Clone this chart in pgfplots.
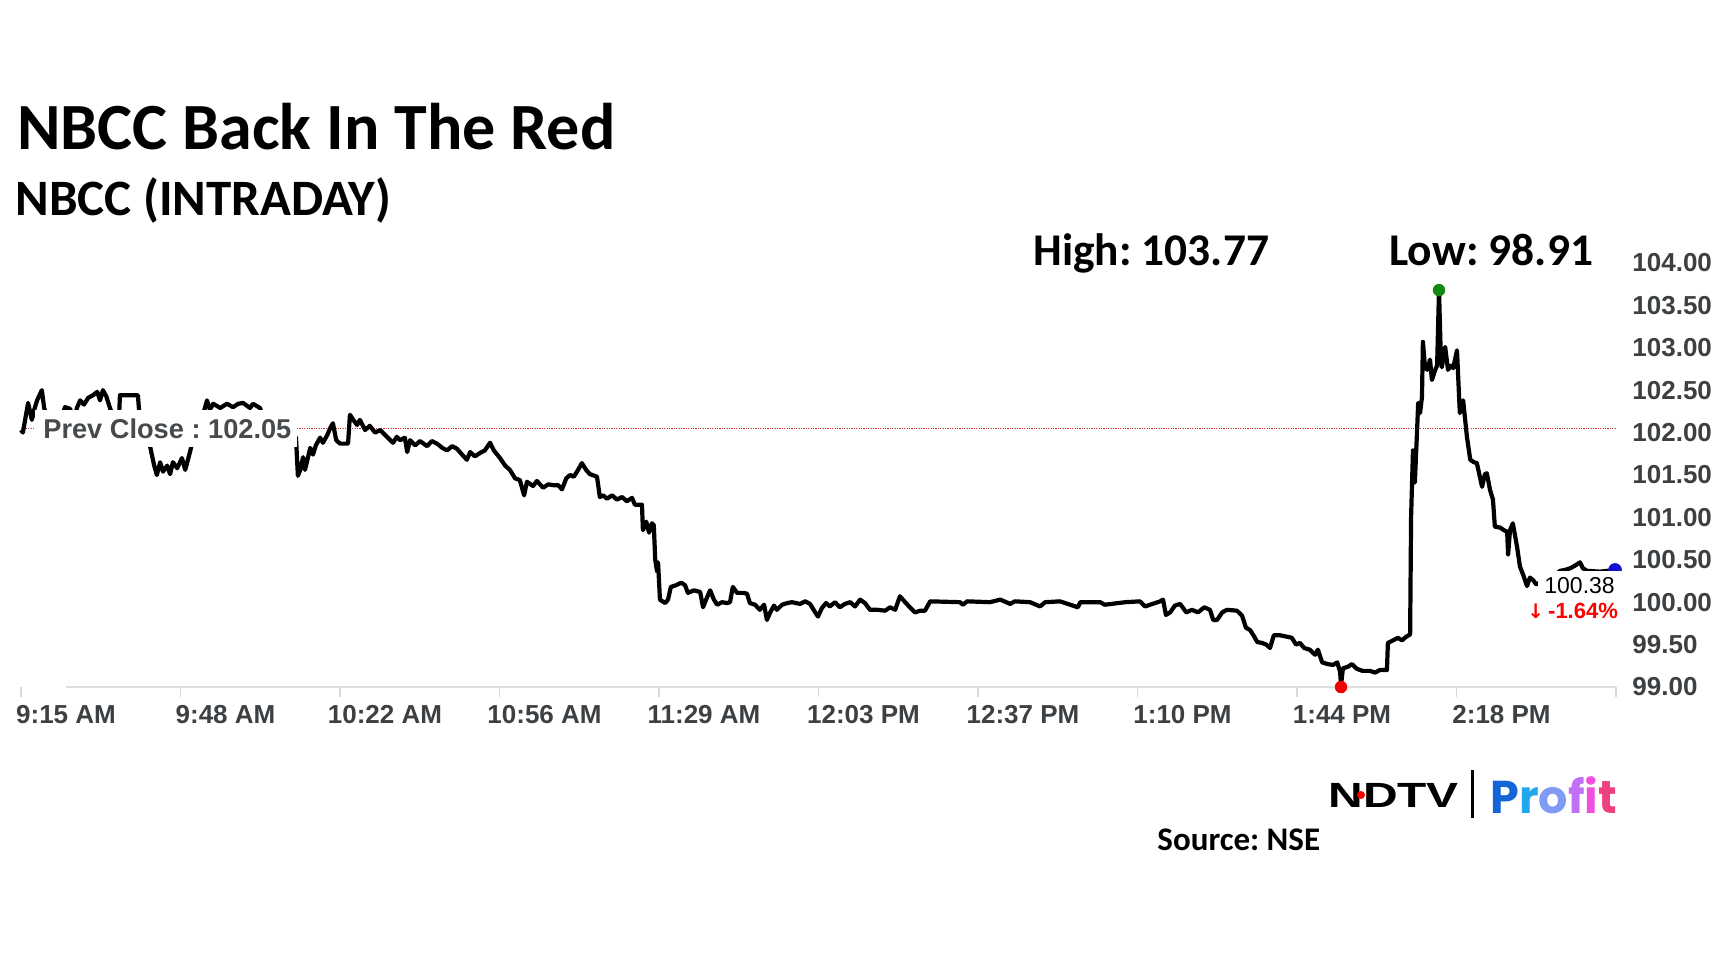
\documentclass[border=0pt]{standalone}
\usepackage{fontspec}
\setmainfont{Carlito}
\newfontfamily\arialf{Liberation Sans}
\newfontfamily\popf{Poppins}
\newfontfamily\dejaf{DejaVu Sans}
\usepackage{graphicx}
\usepackage{xcolor}
\usepackage{pgfplots}
\pgfplotsset{compat=1.18}
\frenchspacing
\definecolor{ticktext}{HTML}{3C4043}
\definecolor{prevtext}{HTML}{474A4D}
\definecolor{prevred}{HTML}{D03030}
\definecolor{hidot}{HTML}{128A12}
\definecolor{lodot}{HTML}{F00000}
\definecolor{enddot}{HTML}{1010D0}
\definecolor{pa}{HTML}{1466D6}
\definecolor{pb}{HTML}{22A6EF}
\definecolor{pc}{HTML}{7F9BF5}
\definecolor{pd}{HTML}{C070F2}
\definecolor{pe}{HTML}{F050E0}
\definecolor{pf}{HTML}{EE3F7E}
\pgfplotstableread{
m v
0 102.03
0.4 102.00
1.5 102.35
2.3 102.15
2.8 102.27
3.4 102.38
4.4 102.50
4.9 102.29
6.1 102.09
7.8 102.03
9.3 102.30
10.4 102.28
11.2 102.09
11.8 102.29
12.5 102.38
13.3 102.33
14.2 102.41
15.2 102.44
16.1 102.48
16.7 102.38
17.3 102.50
18.0 102.43
18.8 102.29
19.7 102.15
20.7 102.15
20.9 102.44
24.7 102.44
25.1 102.15
26.4 102.03
27.3 101.83
28.1 101.62
28.7 101.50
29.4 101.65
30.0 101.54
30.9 101.61
31.5 101.51
32.1 101.65
33.0 101.58
34.0 101.70
34.7 101.56
35.7 101.77
36.3 101.91
37.8 102.09
38.9 102.30
39.3 102.38
39.9 102.27
40.6 102.34
42.1 102.29
43.5 102.34
44.8 102.30
45.9 102.34
46.9 102.35
48.4 102.29
49.0 102.34
50.5 102.29
51.6 102.09
56.8 102.01
58.1 101.94
58.5 101.49
59.0 101.56
59.6 101.71
60.0 101.56
60.4 101.65
61.1 101.82
61.7 101.74
62.3 101.85
63.2 101.94
63.8 101.88
64.7 101.97
65.3 102.05
65.9 102.11
66.6 101.91
67.4 101.87
69.1 101.87
69.5 102.21
70.2 102.15
71.0 102.09
71.6 102.15
72.7 102.03
73.7 102.08
74.8 102.00
75.9 102.03
77.3 101.95
78.6 101.88
79.4 101.95
80.1 101.91
81.1 101.94
81.6 101.77
82.2 101.91
83.3 101.85
84.3 101.90
85.8 101.84
86.8 101.90
87.9 101.87
89.0 101.82
90.0 101.79
91.1 101.84
92.1 101.81
93.2 101.74
94.2 101.68
94.9 101.77
95.9 101.72
97.0 101.76
98.0 101.79
99.1 101.88
99.9 101.79
101.2 101.70
102.3 101.61
103.3 101.56
104.4 101.46
105.4 101.44
106.3 101.26
106.9 101.42
108.2 101.37
109.0 101.43
110.3 101.35
111.4 101.39
112.4 101.38
113.5 101.38
114.3 101.33
115.2 101.46
116.0 101.50
116.8 101.48
117.7 101.56
118.5 101.64
119.4 101.56
120.2 101.51
121.7 101.48
122.3 101.24
123.0 101.26
123.8 101.22
124.9 101.26
125.9 101.21
127.0 101.24
128.0 101.19
129.1 101.23
129.7 101.15
131.2 101.15
131.4 100.85
132.1 100.95
132.7 100.82
133.3 100.93
133.7 100.91
134.0 100.50
134.4 100.36
134.6 100.47
135.0 100.03
136.1 99.99
136.7 100.03
137.3 100.18
138.4 100.20
139.5 100.23
140.3 100.20
140.9 100.11
142.2 100.14
143.5 100.12
144.1 99.94
144.9 100.05
145.6 100.14
146.4 100.03
147.1 99.97
148.1 100.00
149.2 99.99
149.8 100.00
150.4 100.18
151.3 100.11
152.6 100.11
153.4 100.10
154.0 99.99
155.1 99.97
156.1 99.91
157.0 99.97
157.6 99.79
158.3 99.88
159.1 99.96
159.7 99.91
160.8 99.97
161.9 99.99
162.9 100.00
164.6 99.98
165.7 100.01
166.7 99.98
167.8 99.88
168.4 99.83
169.2 99.93
170.1 99.99
170.9 99.95
172.0 100.00
173.0 99.94
174.1 99.98
175.2 100.00
176.2 99.95
177.3 100.03
178.3 99.99
179.4 99.91
180.9 99.91
182.6 99.90
183.6 99.94
184.7 99.91
185.7 100.07
186.8 100.00
187.8 99.94
188.9 99.88
190.0 99.90
191.0 99.90
192.1 100.01
198.4 100.00
199.0 99.97
199.9 100.01
204.7 100.00
206.9 100.03
209.0 99.98
210.0 100.01
213.2 100.00
215.3 99.95
216.4 100.00
219.5 100.01
223.3 99.94
223.8 100.00
228.0 100.00
229.0 99.97
233.3 100.00
236.4 100.01
237.5 99.95
240.7 100.01
241.3 100.03
241.9 99.85
242.8 99.88
243.8 99.96
244.9 99.98
246.2 99.88
247.4 99.91
248.7 99.88
250.0 99.94
251.2 99.91
251.9 99.79
252.7 99.79
253.8 99.88
254.8 99.91
256.9 99.90
258.0 99.84
258.8 99.70
259.7 99.67
260.5 99.60
261.2 99.53
262.2 99.52
263.1 99.50
263.9 99.46
264.7 99.61
266.0 99.61
267.7 99.59
268.5 99.58
269.4 99.50
270.2 99.52
271.1 99.46
272.3 99.44
273.4 99.38
274.0 99.44
274.9 99.29
276.1 99.27
277.2 99.26
278.1 99.29
278.7 99.18
278.9 99.02
279.3 99.22
280.4 99.24
281.2 99.27
282.1 99.22
282.9 99.20
283.5 99.19
285.0 99.19
286.1 99.17
287.1 99.20
288.6 99.20
288.8 99.52
289.9 99.55
290.9 99.58
291.8 99.55
292.6 99.59
293.5 99.62
293.7 101.00
294.1 101.79
294.5 101.41
295.0 102.07
295.2 102.35
295.6 102.23
296.0 102.42
296.2 103.07
296.6 102.80
297.1 102.74
297.7 102.86
298.1 102.62
298.8 102.74
299.2 102.79
299.6 103.68
300.0 102.86
300.2 102.77
300.9 103.01
301.5 102.74
302.1 102.79
302.6 102.76
303.4 102.97
304.0 102.23
304.7 102.38
305.5 101.95
306.2 101.68
307.0 101.65
307.6 101.64
308.7 101.36
309.3 101.51
309.7 101.52
310.4 101.32
311.0 101.21
311.4 100.89
312.5 100.88
313.3 100.85
314.0 100.83
314.2 100.56
314.6 100.85
315.2 100.93
316.1 100.65
316.7 100.42
317.4 100.32
318.2 100.19
318.8 100.29
319.5 100.26
320.1 100.21
322.0 100.26
324.1 100.32
325.2 100.37
326.2 100.38
327.3 100.40
328.3 100.43
329.4 100.47
330.0 100.40
330.9 100.37
333.6 100.36
336.8 100.38
}\pricedata
\begin{document}
\begin{tikzpicture}
\path[use as bounding box] (0,0) rectangle (864pt,486pt);
\begin{axis}[
  at={(10.5pt,142.5pt)}, anchor=south west,
  scale only axis, width=797.5pt, height=212pt,
  xmin=0, xmax=337, ymin=99, ymax=104,
  enlargelimits=false, clip=false,
  axis line style={draw=none},
  xtick={0,33.7,67.4,101.1,134.8,168.5,202.2,235.9,269.6,303.3,337},
  xticklabels={9:15 AM,9:48 AM,10:22 AM,10:56 AM,11:29 AM,12:03 PM,12:37 PM,1:10 PM,1:44 PM,2:18 PM,{}},
  xtick pos=bottom, tick align=outside, major tick length=5pt,
  xtick style={draw=black!15, line width=0.6pt},
  ytick={99,99.5,100,100.5,101,101.5,102,102.5,103,103.5,104},
  yticklabels={99.00,99.50,100.00,100.50,101.00,101.50,102.00,102.50,103.00,103.50,104.00},
  yticklabel pos=right, ytick style={draw=none},
  ticklabel style={font=\arialf\bfseries\fontsize{13pt}{15pt}\selectfont, text=ticktext},
  xticklabel style={anchor=center, inner sep=0pt, yshift=-9pt, xshift=22.5pt},
  yticklabel style={anchor=west, inner sep=0pt, xshift=3pt},
]
\draw[black!13, line width=1pt] (axis cs:9.5,99) -- (axis cs:337,99);
\addplot[prevred, line width=0.7pt, dash pattern=on 0.6pt off 0.6pt] coordinates {(0,102.05) (337,102.05)};
\addplot[black, line width=2.1pt, line join=round] table[x=m, y=v] {\pricedata};
\addplot[only marks, mark=*, mark size=2.9pt, color=hidot] coordinates {(299.6,103.68)};
\addplot[only marks, mark=*, mark size=2.9pt, color=lodot] coordinates {(278.9,99.0)};
\addplot[only marks, mark=*, mark size=3.2pt, color=enddot] coordinates {(336.8,100.38)};
\end{axis}
\begin{scope}[x=0.5pt, y=-0.5pt, shift={(0pt,486pt)}]
  % Prev close label
  \fill[white] (35,410) rectangle (297,447);
  \node[anchor=west, inner sep=0pt, text=prevtext] at (43,429)
    {\arialf\bfseries\fontsize{13.6pt}{15pt}\selectfont Prev Close : 102.05};
  % last value label
  \fill[white] (1538,571) rectangle (1622,598);
  \node[anchor=west, inner sep=0pt] at (1544,586)
    {\arialf\fontsize{11.5pt}{13pt}\selectfont 100.38};
  \node[anchor=west, inner sep=0pt, text=red] at (1527,611)
    {\dejaf\bfseries\fontsize{10pt}{12pt}\selectfont ↓\hspace{2pt}\arialf\fontsize{11pt}{13pt}\selectfont-1.64\%};
  % titles
  \node[anchor=base west, inner sep=0pt] at (17,150)
    {\fontsize{33pt}{40pt}\selectfont\bfseries NBCC Back In The Red};
  \node[anchor=base west, inner sep=0pt] at (15,216)
    {\fontsize{25.5pt}{30pt}\selectfont\bfseries NBCC (INTRADAY)};
  \node[anchor=base west, inner sep=0pt] at (1033,266)
    {\fontsize{22.7pt}{28pt}\selectfont\bfseries High: 103.77};
  \node[anchor=base west, inner sep=0pt] at (1389,266)
    {\fontsize{22.7pt}{28pt}\selectfont\bfseries Low: 98.91};
  \node[anchor=base west, inner sep=0pt] at (1157,851)
    {\fontsize{16.5pt}{20pt}\selectfont\bfseries Source: NSE};
  % logo
  \node[anchor=west, inner sep=0pt] at (1328,795)
    {\scalebox{1.37}[1]{\arialf\bfseries\fontsize{17.5pt}{20pt}\selectfont NDTV}};
  \fill[red] (1361,795) circle (4);
  \draw[black, line width=1.5pt] (1472,770) -- (1472,818);
  \node[anchor=west, inner sep=0pt] at (1490,795)
    {\popf\bfseries\fontsize{23pt}{26pt}\selectfont\textcolor{pa}{P}\textcolor{pb}{r}\textcolor{pc}{o}\textcolor{pd}{f}\textcolor{pe}{i}\textcolor{pf}{t}};
\end{scope}
\end{tikzpicture}
\end{document}
